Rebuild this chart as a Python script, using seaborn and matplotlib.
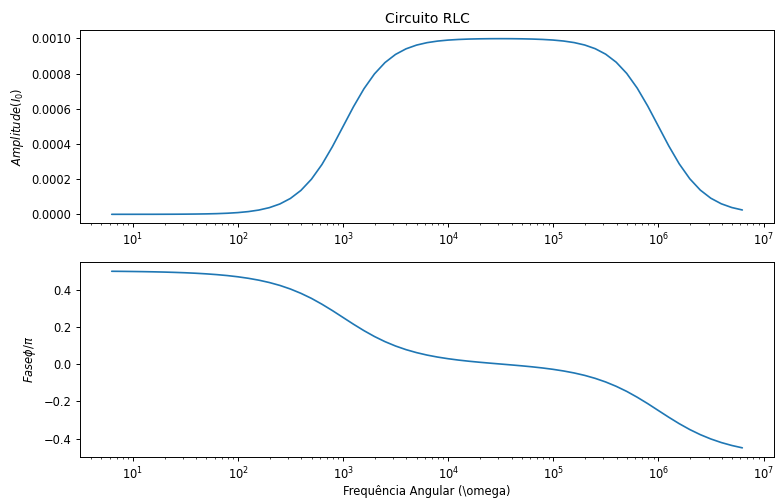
import numpy as np
import pandas as pd
import seaborn as sns
import matplotlib
matplotlib.use("Agg")
import matplotlib.pyplot as plt

# angular frequency grid: 2*pi * 10^0 ... 2*pi * 10^6, 10 samples per decade
omega = 2 * np.pi * np.logspace(0, 6, 61)

# amplitude (units of 1e-3)
amp_milli = [
    0.0000, 0.0001, 0.0001, 0.0002, 0.0002, 0.0004, 0.0006, 0.0010,
    0.0016, 0.0025, 0.0039, 0.0062, 0.0098, 0.0155, 0.0243, 0.0380,
    0.0589, 0.0902, 0.1358, 0.1994, 0.2830, 0.3849, 0.4979, 0.6111,
    0.7135, 0.7979, 0.8622, 0.9084, 0.9402, 0.9614, 0.9753, 0.9842,
    0.9899, 0.9935, 0.9958, 0.9971, 0.9978, 0.9980, 0.9978, 0.9971,
    0.9958, 0.9936, 0.9901, 0.9845, 0.9757, 0.9620, 0.9411, 0.9098,
    0.8642, 0.8006, 0.7170, 0.6151, 0.5021, 0.3889, 0.2865, 0.2021,
    0.1378, 0.0916, 0.0598, 0.0386, 0.0247,
]

# phase / pi
phase = [
    0.4980, 0.4975, 0.4968, 0.4960, 0.4950, 0.4937, 0.4920, 0.4900,
    0.4874, 0.4841, 0.4800, 0.4749, 0.4684, 0.4603, 0.4502, 0.4376,
    0.4220, 0.4028, 0.3796, 0.3526, 0.3212, 0.2869, 0.2504, 0.2139,
    0.1793, 0.1478, 0.1203, 0.0969, 0.0774, 0.0614, 0.0482, 0.0375,
    0.0287, 0.0213, 0.0151, 0.0097, 0.0048, 0.0001, -0.0046, -0.0095,
    -0.0149, -0.0211, -0.0284, -0.0372, -0.0478, -0.0608, -0.0768, -0.0962,
    -0.1195, -0.1467, -0.1781, -0.2124, -0.2490, -0.2854, -0.3201, -0.3515,
    -0.3788, -0.4020, -0.4213, -0.4370, -0.4497,
]

df = pd.DataFrame({
    "omega": omega,
    "amp": np.array(amp_milli) * 1e-3,
    "phase": phase,
})

sns.set_style("ticks")
plt.rcParams["font.family"] = ["DejaVu Sans"]
plt.rcParams["axes.linewidth"] = 0.7
plt.rcParams["axes.edgecolor"] = "black"
plt.rcParams["text.color"] = "black"
plt.rcParams["axes.labelcolor"] = "black"
plt.rcParams["xtick.color"] = "black"
plt.rcParams["ytick.color"] = "black"
plt.rcParams["xtick.major.size"] = 2.9
plt.rcParams["ytick.major.size"] = 2.9
plt.rcParams["xtick.minor.size"] = 1.7
plt.rcParams["xtick.major.width"] = 0.7
plt.rcParams["ytick.major.width"] = 0.7
plt.rcParams["xtick.minor.width"] = 0.5

fs = 8.3

fig = plt.figure(figsize=(7.75, 4.98), dpi=100)
ax1 = fig.add_axes([0.1035, 0.5520, 0.8950, 0.3880])
ax2 = fig.add_axes([0.1035, 0.0830, 0.8950, 0.3900])

sns.lineplot(data=df, x="omega", y="amp", ax=ax1, color="#1f77b4", linewidth=1.2)
ax1.set_xscale("log")
ax1.set_title("Circuito RLC", fontsize=10, pad=5)
ax1.set_ylabel("$Amplitude (I_0)$", fontsize=fs)
ax1.set_xlabel("")

sns.lineplot(data=df, x="omega", y="phase", ax=ax2, color="#1f77b4", linewidth=1.2)
ax2.set_xscale("log")
ax2.set_ylabel("$Fase \\phi/\\pi$", fontsize=fs)
ax2.set_xlabel("Frequência Angular (\\omega)", fontsize=fs, labelpad=2)

for ax in (ax1, ax2):
    ax.tick_params(labelsize=fs)

fig.savefig("out.png", dpi=100)
